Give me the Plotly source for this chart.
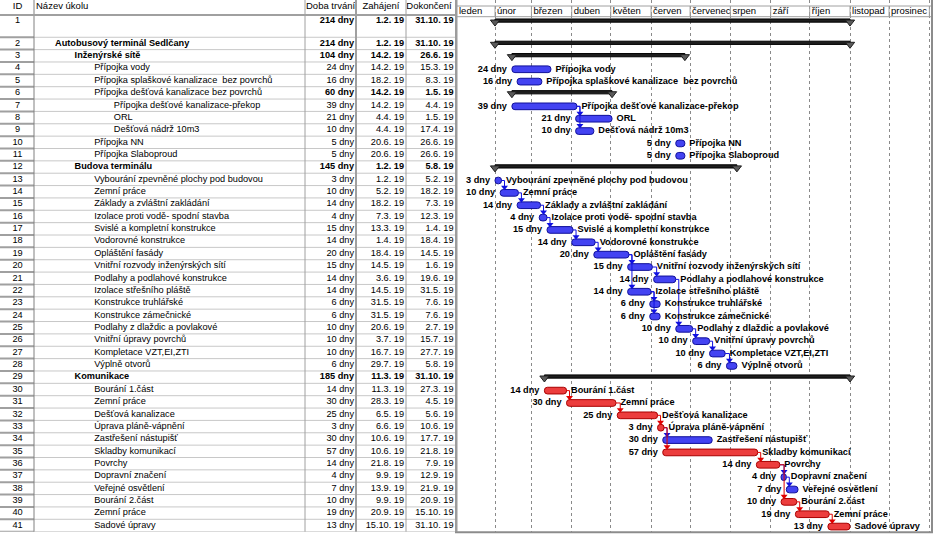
import plotly.graph_objects as go
import pandas as pd

# ---------------- data ----------------
task_ids = list(range(1, 42))
task_names = [
    "", "Autobusový terminál Sedlčany", "Inženýrské sítě", "Přípojka vody",
    "Přípojka splaškové kanalizace  bez povrchů", "Přípojka dešťová kanalizace bez povrchů",
    "Přípojka dešťové kanalizace-překop", "ORL", "Dešťová nádrž 10m3", "Přípojka NN",
    "Přípojka Slaboproud", "Budova terminálu", "Vybourání zpevněné plochy pod budovou",
    "Zemní práce", "Základy a zvláštní zakládání", "Izolace proti vodě- spodní stavba",
    "Svislé a kompletní konstrukce", "Vodorovné konstrukce", "Opláštění fasády",
    "Vnitřní rozvody inženýrských sítí", "Podlahy a podlahové konstrukce",
    "Izolace střešního pláště", "Konstrukce truhlářské", "Konstrukce zámečnické",
    "Podlahy z dlaždic a povlakové", "Vnitřní úpravy povrchů", "Kompletace VZT,EI,ZTI",
    "Výplně otvorů", "Komunikace", "Bourání 1.část", "Zemní práce", "Dešťová kanalizace",
    "Úprava pláně-vápnění", "Zastřešení nástupišť", "Skladby komunikací", "Povrchy",
    "Dopravní značení", "Veřejné osvětlení", "Bourání 2.část", "Zemní práce", "Sadové úpravy",
]
outline_levels = [0, 1, 2, 3, 3, 3, 4, 4, 4, 3, 3, 2] + [3] * 16 + [2] + [3] * 12
durations = [214, 214, 104, 24, 16, 60, 39, 21, 10, 5, 5, 145, 3, 10, 14, 4, 15, 14, 20, 15,
             14, 14, 6, 6, 10, 10, 10, 6, 185, 14, 30, 25, 3, 30, 57, 14, 4, 7, 10, 19, 13]
start_labels = [
    "1.2. 19", "1.2. 19", "14.2. 19", "14.2. 19", "18.2. 19", "14.2. 19", "14.2. 19", "4.4. 19",
    "4.4. 19", "20.6. 19", "20.6. 19", "1.2. 19", "1.2. 19", "5.2. 19", "18.2. 19", "7.3. 19",
    "13.3. 19", "1.4. 19", "18.4. 19", "14.5. 19", "3.6. 19", "14.5. 19", "31.5. 19", "31.5. 19",
    "20.6. 19", "3.7. 19", "16.7. 19", "29.7. 19", "11.3. 19", "11.3. 19", "28.3. 19", "6.5. 19",
    "6.6. 19", "10.6. 19", "10.6. 19", "21.8. 19", "9.9. 19", "13.9. 19", "9.9. 19", "20.9. 19",
    "15.10. 19",
]
end_labels = [
    "31.10. 19", "31.10. 19", "26.6. 19", "15.3. 19", "8.3. 19", "1.5. 19", "4.4. 19", "1.5. 19",
    "17.4. 19", "26.6. 19", "26.6. 19", "5.8. 19", "5.2. 19", "18.2. 19", "7.3. 19", "12.3. 19",
    "1.4. 19", "18.4. 19", "14.5. 19", "1.6. 19", "19.6. 19", "31.5. 19", "7.6. 19", "7.6. 19",
    "2.7. 19", "15.7. 19", "27.7. 19", "5.8. 19", "31.10. 19", "27.3. 19", "4.5. 19", "5.6. 19",
    "10.6. 19", "17.7. 19", "21.8. 19", "7.9. 19", "12.9. 19", "21.9. 19", "20.9. 19",
    "15.10. 19", "31.10. 19",
]
summary_ids = [1, 2, 3, 6, 12, 29]
bold_name_ids = [2, 3, 12, 29]
critical_ids = [30, 31, 32, 33, 35, 36, 39, 40, 41]
links = [(7, 8), (7, 9), (13, 14), (14, 15), (15, 16), (16, 17), (17, 18), (18, 19), (19, 20),
         (19, 22), (20, 21), (21, 25), (22, 23), (22, 24), (25, 26), (26, 27), (27, 28),
         (30, 31), (31, 32), (32, 33), (33, 34), (33, 35), (35, 36), (36, 37), (37, 38),
         (36, 39), (39, 40), (40, 41)]
month_names = ["leden", "únor", "březen", "duben", "květen", "červen", "červenec", "srpen",
               "září", "říjen", "listopad", "prosinec"]
column_headers = ["ID", "Název úkolu", "Doba trvání", "Zahájení", "Dokončení"]
duration_unit = "dny"

# ---------------- layout constants ----------------
W, H = 934, 545
FONT = "Liberation Sans, Arial, sans-serif"
FS = 9.2
TOP_BODY = 15.0
ROW_PX = 12.36
ROW1 = 1.8
N = len(task_ids)
TOTAL = ROW1 + (N - 1)
BODY_BOTTOM = TOP_BODY + TOTAL * ROW_PX
HEAD_H = 17.0
TABLE_W = 455.0
GX0, GX1 = 457.0, 931.0
PXD = 1.3004
JAN1_PX = 454.7
DAY0 = pd.Timestamp("2019-01-01")


def px_days(p):
    return pd.Timedelta(days=p / PXD)


x_lo = DAY0 + px_days(GX0 - JAN1_PX)
x_hi = DAY0 + px_days(GX1 - JAN1_PX)


def parse_date(s):
    d, m, y = [p for p in s.replace(" ", "").split(".") if p]
    return pd.Timestamp(2000 + int(y), int(m), int(d))


starts = [parse_date(s) for s in start_labels]
ends = [parse_date(s) + pd.Timedelta(days=1) for s in end_labels]


def row_top(i):
    return 0.0 if i == 0 else ROW1 + (i - 1)


def row_mid(i):
    return 0.5 if i == 0 else row_top(i) + 0.5


def ts(t):
    return t.strftime("%Y-%m-%d %H:%M:%S")


def py(p):
    return 1 - p / H


idx_of = {tid: k for k, tid in enumerate(task_ids)}
summary_idx = [idx_of[t] for t in summary_ids]
crit_idx = [idx_of[t] for t in critical_ids]
task_idx = [k for k in range(N) if k not in summary_idx]
blue_idx = [k for k in task_idx if k not in crit_idx]
red_idx = [k for k in task_idx if k in crit_idx]
bold_name_idx = [idx_of[t] for t in bold_name_ids]
plain_name_idx = [k for k in range(N) if k not in bold_name_idx]

BAR_OFF = 0.09
BAR_W = 0.54
SUM_OFF = -0.05

fig = go.Figure()


# ---------------- gantt bars ----------------
def bars(idx, fill, edge, width, off, radius):
    return go.Bar(
        orientation="h", xaxis="x", yaxis="y",
        y=[row_mid(k) + off for k in idx],
        base=[ts(starts[k]) for k in idx],
        x=[(ends[k] - starts[k]).total_seconds() * 1000 for k in idx],
        width=width,
        marker=dict(color=fill, line=dict(color=edge, width=1), cornerradius=radius),
        hoverinfo="skip",
    )


fig.add_trace(bars(summary_idx, "#1e1e1e", "#000000", 0.26, SUM_OFF, 0))
fig.add_trace(go.Scatter(
    xaxis="x", yaxis="y", mode="markers",
    x=[ts(starts[k]) for k in summary_idx] + [ts(ends[k]) for k in summary_idx],
    y=[row_mid(k) + SUM_OFF + 0.12 for k in summary_idx] * 2,
    marker=dict(symbol="triangle-down", size=8, color="#5a5a5a", line=dict(color="#1e1e1e", width=1)),
    hoverinfo="skip", cliponaxis=False,
))


# links
def link_traces(color, pairs):
    lx, ly, ax, ay = [], [], [], []
    for p, s in pairs:
        ip, is_ = idx_of[p], idx_of[s]
        xe = ends[ip]
        xs = starts[is_]
        xv = max(xe, xs) + px_days(3)
        yp = row_mid(ip) + BAR_OFF
        ys = row_mid(is_) + BAR_OFF - BAR_W / 2 - 0.18
        lx += [ts(xe), ts(xv), ts(xv), None]
        ly += [yp, yp, ys, None]
        ax.append(ts(xv))
        ay.append(ys)
    return [
        go.Scatter(xaxis="x", yaxis="y", mode="lines", x=lx, y=ly,
                   line=dict(color=color, width=1), hoverinfo="skip"),
        go.Scatter(xaxis="x", yaxis="y", mode="markers", x=ax, y=ay,
                   marker=dict(symbol="triangle-down", size=6, color=color), hoverinfo="skip"),
    ]


blue_links = [l for l in links if not (idx_of[l[0]] in crit_idx and idx_of[l[1]] in crit_idx)]
red_links = [l for l in links if (idx_of[l[0]] in crit_idx and idx_of[l[1]] in crit_idx)]
for tr in link_traces("#1010e0", blue_links):
    fig.add_trace(tr)
for tr in link_traces("#e00000", red_links):
    fig.add_trace(tr)

fig.add_trace(bars(blue_idx, "#4343f2", "#10109a", BAR_W, BAR_OFF, 3))
fig.add_trace(bars(red_idx, "#ec3d3d", "#a80000", BAR_W, BAR_OFF, 3))

# gantt labels
fig.add_trace(go.Scatter(
    xaxis="x", yaxis="y", mode="text",
    x=[ts(starts[k] - px_days(5)) for k in task_idx],
    y=[row_mid(k) + BAR_OFF for k in task_idx],
    text=[f"{durations[k]} {duration_unit}" for k in task_idx],
    textposition="middle left",
    textfont=dict(family=FONT, size=FS, color="black", weight="bold"),
    hoverinfo="skip", cliponaxis=False,
))
fig.add_trace(go.Scatter(
    xaxis="x", yaxis="y", mode="text",
    x=[ts(ends[k] + px_days(4.5)) for k in task_idx],
    y=[row_mid(k) + BAR_OFF for k in task_idx],
    text=[task_names[k] for k in task_idx],
    textposition="middle right",
    textfont=dict(family=FONT, size=FS, color="black", weight="bold"),
    hoverinfo="skip", cliponaxis=False,
))


# ---------------- table ----------------
def table_text(xs, idx, texts, pos, bold):
    return go.Scatter(
        xaxis="x2", yaxis="y", mode="text",
        x=xs, y=[row_mid(k) for k in idx], text=texts, textposition=pos,
        textfont=dict(family=FONT, size=FS, color="black", weight="bold" if bold else "normal"),
        hoverinfo="skip", cliponaxis=False,
    )


fig.add_trace(table_text([17.5] * N, list(range(N)), [str(t) for t in task_ids], "middle center", False))
for bold, idx in ((True, bold_name_idx), (False, plain_name_idx)):
    fig.add_trace(table_text([55 + (outline_levels[k] - 1) * 19.6 for k in idx], idx,
                             [task_names[k] for k in idx], "middle right", bold))
for bold, idx in ((True, summary_idx), (False, task_idx)):
    fig.add_trace(table_text([354] * len(idx), idx,
                             [f"{durations[k]} {duration_unit}" for k in idx], "middle left", bold))
    fig.add_trace(table_text([404] * len(idx), idx, [start_labels[k] for k in idx], "middle left", bold))
    fig.add_trace(table_text([453.5] * len(idx), idx, [end_labels[k] for k in idx], "middle left", bold))

# table header
fig.add_trace(go.Scatter(
    xaxis="x2", yaxis="y2", mode="text",
    x=[17.5, 36, 306, 381, 429], y=[6.2] * 5, text=column_headers,
    textposition=["middle center", "middle right", "middle right", "middle center", "middle center"],
    textfont=dict(family=FONT, size=9.5, color="black"), hoverinfo="skip", cliponaxis=False,
))

# month header
month_starts = [pd.Timestamp(2019, m, 1) for m in range(1, 13)]
fig.add_trace(go.Scatter(
    xaxis="x", yaxis="y2", mode="text",
    x=[ts(max(m, x_lo) + px_days(2)) for m in month_starts], y=[11.8] * 12, text=month_names,
    textposition="middle right",
    textfont=dict(family=FONT, size=9.5, color="black"), hoverinfo="skip", cliponaxis=False,
))

# ---------------- decoration shapes ----------------
shapes = []
GRAY_L = "#c8c8c8"
GRAY_M = "#a0a0a0"
for k in range(1, N + 1):
    yv = row_top(k) if k < N else TOTAL
    shapes.append(dict(type="line", xref="x2", yref="y", x0=34, x1=TABLE_W, y0=yv, y1=yv,
                       line=dict(color=GRAY_L, width=1)))
    shapes.append(dict(type="line", xref="x2", yref="y", x0=0, x1=34, y0=yv, y1=yv,
                       line=dict(color=GRAY_M, width=2)))
for xc, col, wd in ((34, "#808080", 1), (305, GRAY_M, 1), (356, GRAY_M, 2), (406, GRAY_M, 1)):
    shapes.append(dict(type="line", xref="paper", yref="paper", x0=xc / W, x1=xc / W,
                       y0=py(0), y1=py(BODY_BOTTOM), line=dict(color=col, width=wd)))
shapes.append(dict(type="line", xref="paper", yref="paper", x0=0, x1=TABLE_W / W,
                   y0=py(15), y1=py(15), line=dict(color=GRAY_M, width=2)))
shapes.append(dict(type="line", xref="paper", yref="paper", x0=GX0 / W, x1=GX1 / W,
                   y0=py(6), y1=py(6), line=dict(color=GRAY_M, width=1)))
shapes.append(dict(type="line", xref="paper", yref="paper", x0=GX0 / W, x1=GX1 / W,
                   y0=py(16.7), y1=py(16.7), line=dict(color=GRAY_M, width=1)))
for m in month_starts[1:] + [pd.Timestamp(2020, 1, 1)]:
    shapes.append(dict(type="line", xref="x", yref="paper", x0=ts(m), x1=ts(m),
                       y0=py(6), y1=py(16.7), line=dict(color=GRAY_M, width=1)))
shapes.append(dict(type="rect", xref="paper", yref="paper", x0=455 / W, x1=457.5 / W,
                   y0=py(0), y1=py(BODY_BOTTOM), fillcolor="#9c9c9c", line=dict(width=0)))
shapes.append(dict(type="rect", xref="paper", yref="paper", x0=931 / W, x1=933 / W,
                   y0=py(0), y1=py(BODY_BOTTOM + 1), fillcolor="#8c8c8c", line=dict(width=0)))
shapes.append(dict(type="rect", xref="paper", yref="paper", x0=455 / W, x1=933 / W,
                   y0=py(BODY_BOTTOM - 0.5), y1=py(BODY_BOTTOM + 1.5), fillcolor="#8c8c8c",
                   line=dict(width=0)))

fig.update_layout(
    width=W, height=H, margin=dict(l=0, r=0, t=0, b=0),
    paper_bgcolor="white", plot_bgcolor="rgba(0,0,0,0)",
    showlegend=False, barmode="overlay", shapes=shapes, hovermode=False,
    xaxis=dict(type="date", domain=[GX0 / W, GX1 / W], range=[ts(x_lo), ts(x_hi)],
               showgrid=True, gridcolor="#8a8a8a", griddash="dot", gridwidth=1,
               tick0="2019-01-01", dtick="M1", showticklabels=False, ticks="",
               zeroline=False, showline=False, anchor="y", fixedrange=True),
    xaxis2=dict(domain=[0, TABLE_W / W], range=[0, TABLE_W], visible=False, anchor="y",
                fixedrange=True),
    yaxis=dict(domain=[py(BODY_BOTTOM), py(TOP_BODY)], range=[TOTAL, 0], visible=False,
               anchor="x", fixedrange=True),
    yaxis2=dict(domain=[py(HEAD_H), 1], range=[HEAD_H, 0], visible=False, anchor="x",
                fixedrange=True),
)

fig.write_html(
    "out.html",
    config={"displayModeBar": False, "staticPlot": True},
    post_script="document.body.style.margin='0px';document.body.style.padding='0px';"
                "document.body.style.overflow='hidden';",
)
